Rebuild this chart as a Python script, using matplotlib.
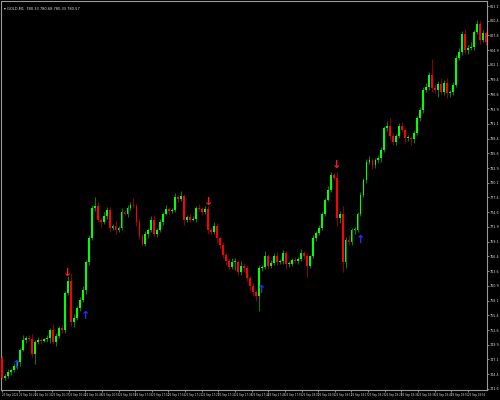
import matplotlib
matplotlib.use("Agg")
import matplotlib.pyplot as plt
import numpy as np
import pandas as pd

# --- data (GOLD, M1) ---
first_open = 747.4
closes = [743.7, 744.0, 744.8, 745.1, 745.9, 746.6, 748.9, 750.8, 751.1, 750.9,
          748.1, 750.4, 750.8, 750.6, 750.9, 751.1, 752.6, 750.4, 751.5, 753.0,
          752.6, 759.5, 761.8, 754.1, 754.9, 756.7, 758.2, 760.1, 765.3, 769.8,
          775.4, 775.8, 773.2, 772.8, 773.9, 775.0, 771.7, 772.0, 771.3, 771.7,
          774.6, 774.3, 775.4, 776.0, 775.8, 772.8, 770.2, 768.7, 770.5, 771.3,
          773.2, 770.5, 771.3, 772.8, 774.3, 775.2, 774.8, 775.0, 777.4, 777.1,
          777.6, 773.2, 773.7, 773.2, 773.3, 775.4, 775.2, 774.6, 775.2, 771.3,
          770.9, 772.0, 769.8, 768.5, 766.6, 765.5, 764.4, 765.3, 765.3, 763.4,
          764.6, 764.2, 762.3, 760.8, 759.7, 759.0, 764.2, 764.4, 766.4, 764.6,
          765.1, 766.4, 765.3, 765.5, 767.0, 764.9, 764.9, 765.7, 765.5, 765.9,
          767.0, 766.4, 764.6, 766.4, 769.8, 770.7, 771.7, 774.3, 776.9, 778.8,
          781.6, 781.0, 773.5, 774.3, 765.3, 769.4, 769.0, 771.3, 771.3, 774.3,
          777.8, 780.6, 784.0, 784.4, 783.4, 784.4, 784.7, 786.2, 790.3, 790.7,
          788.8, 787.7, 788.8, 790.7, 790.0, 788.5, 788.5, 788.3, 789.4, 792.2,
          793.7, 797.4, 798.0, 800.2, 797.8, 797.4, 798.5, 797.1, 798.7, 796.9,
          797.1, 798.4, 803.4, 804.5, 807.9, 804.9, 805.3, 805.5, 808.3, 809.8,
          806.8, 808.1, 806.4]
upper_wick = [0.4, 0.3, 0.5, 0.2, 0.6, 0.4, 0.3, 0.8, 0.4, 0.5,
              0.9, 0.3, 0.5, 0.4, 0.3, 0.6, 0.4, 1.2, 0.5, 0.3,
              0.6, 0.4, 0.9, 1.5, 0.6, 0.4, 0.5, 0.8, 0.4, 0.6,
              0.5, 1.6, 0.7, 0.4, 0.8, 0.5, 0.6, 0.4, 0.9, 0.3,
              0.8, 0.4, 0.6, 0.5, 1.2, 0.4, 0.6, 0.3, 0.5, 0.4,
              0.6, 0.9, 0.3, 0.5, 0.4, 0.7, 0.4, 0.3, 0.8, 0.5,
              0.9, 0.4, 0.3, 0.6, 0.5, 0.4, 0.8, 0.3, 0.5, 0.6,
              0.4, 0.7, 0.5, 0.3, 0.6, 0.4, 0.5, 0.8, 0.7, 0.3,
              0.9, 0.5, 0.4, 0.3, 0.6, 0.4, 0.5, 0.3, 1.0, 0.4,
              0.6, 0.5, 0.7, 0.4, 0.6, 0.3, 0.5, 0.4, 0.6, 0.3,
              0.8, 0.4, 0.5, 0.3, 0.6, 0.4, 0.5, 0.3, 0.4, 0.6,
              0.5, 0.4, 1.2, 0.6, 1.5, 0.5, 0.9, 0.4, 0.5, 0.3,
              0.6, 0.4, 0.5, 0.7, 0.4, 0.3, 0.5, 0.6, 0.4, 0.9,
              1.5, 0.6, 0.4, 0.5, 0.8, 0.4, 0.6, 0.3, 0.5, 0.4,
              0.6, 0.5, 0.7, 0.6, 3.0, 0.8, 0.6, 1.2, 0.5, 0.9,
              0.4, 0.6, 0.5, 0.7, 0.6, 0.9, 0.5, 0.8, 0.4, 0.6,
              0.5, 0.6, 0.4]
lower_wick = [0.3, 0.5, 0.3, 0.6, 0.4, 0.5, 0.7, 0.3, 0.6, 0.4,
              0.5, 1.8, 0.4, 0.6, 0.3, 0.5, 0.9, 0.4, 0.7, 0.3,
              0.5, 0.6, 0.4, 0.8, 1.0, 0.5, 0.6, 0.4, 0.7, 0.5,
              0.4, 0.6, 0.5, 0.9, 0.4, 0.6, 0.8, 0.5, 0.7, 0.4,
              0.5, 0.3, 0.6, 0.4, 0.5, 0.7, 0.6, 0.5, 0.4, 0.8,
              0.4, 0.6, 0.5, 0.4, 0.6, 0.3, 0.5, 0.4, 0.3, 0.6,
              0.4, 0.9, 0.5, 0.4, 0.3, 0.5, 0.4, 0.6, 0.3, 0.7,
              0.5, 0.4, 0.9, 0.6, 0.5, 0.8, 0.6, 0.4, 1.4, 0.6,
              0.5, 0.7, 0.6, 0.8, 0.7, 1.0, 2.8, 0.5, 0.4, 0.6,
              0.5, 0.3, 0.6, 0.4, 0.5, 0.9, 0.6, 0.4, 0.3, 0.5,
              0.4, 0.6, 2.1, 0.5, 0.4, 0.6, 0.3, 0.5, 0.4, 0.3,
              0.5, 0.4, 1.5, 0.9, 1.8, 1.2, 0.6, 0.5, 0.8, 0.4,
              0.5, 0.3, 0.6, 0.4, 0.8, 0.5, 0.6, 0.7, 0.4, 0.5,
              0.8, 0.5, 0.6, 0.4, 0.5, 0.9, 0.6, 1.2, 0.7, 0.4,
              0.6, 0.5, 0.4, 0.5, 0.7, 0.6, 1.3, 0.5, 0.6, 0.9,
              0.7, 0.6, 0.5, 0.4, 0.6, 0.8, 0.7, 0.5, 0.6, 0.4,
              0.7, 0.5, 0.6]

# signal arrows (bar index, price)
sell_idx = [22, 69, 112]
sell_price = [763.3, 776.5, 783.4]
buy_idx = [5, 28, 87, 120]
buy_price = [746.1, 755.2, 760.1, 769.4]

price_ticks = [741.6 + 2.75 * i for i in range(27)]
title_text = "\u25be GOLD,M1  780.33 780.68 780.33 780.57"

opens = [first_open] + closes[:-1]
n = len(closes)
highs = [max(o, c) + u for o, c, u in zip(opens, closes, upper_wick)]
lows = [min(o, c) - l for o, c, l in zip(opens, closes, lower_wick)]

times = pd.date_range("2022-09-26 16:20", periods=n, freq="min")

fig = plt.figure(figsize=(5, 4), dpi=100, facecolor="black")
ax = fig.add_axes([0.002, 0.025, 0.972, 0.972], facecolor="black")

for i in range(n):
    o, c = opens[i], closes[i]
    up = c >= o
    body_col = "#00ff00" if up else "#ff0000"
    wick_col = "#0b7a0b" if up else "#8a0000"
    ax.vlines(i, lows[i], highs[i], color=wick_col, linewidth=0.8, zorder=2)
    h = abs(c - o)
    if h < 0.15:
        h = 0.15
    ax.bar(i, h, bottom=min(o, c), width=0.62, color=body_col, linewidth=0, zorder=3)

for i, p in zip(sell_idx, sell_price):
    ax.text(i, p, "\u2193", color="#ff1a1a", fontsize=8, fontweight="bold",
            ha="center", va="center", zorder=5)
for i, p in zip(buy_idx, buy_price):
    ax.text(i, p, "\u2191", color="#2a2aff", fontsize=8, fontweight="bold",
            ha="center", va="center", zorder=5)

ax.set_xlim(-0.35, n - 0.65)
ax.set_ylim(741.4, 814.0)

ax.yaxis.tick_right()
ax.set_yticks(price_ticks)
ax.set_yticklabels(["%.1f" % t for t in price_ticks], fontsize=2.4, color="#d8d8d8")
ax.tick_params(axis="y", length=1.2, width=0.5, color="#bbbbbb", pad=0.6)

tick_pos = np.arange(0, n - 4, 5.57)
tick_lab = ["26 Sep 2022"] + [times[int(round(t))].strftime("%d %b %H:%M") for t in tick_pos[1:]]
ax.set_xticks(tick_pos)
ax.set_xticklabels(tick_lab, fontsize=1.9, color="#d8d8d8", ha="left")
ax.tick_params(axis="x", length=1.5, width=0.5, color="#bbbbbb", pad=1)

for s in ax.spines.values():
    s.set_color("#9a9a9a")
    s.set_linewidth(0.8)

fig.text(0.008, 0.978, title_text, fontsize=2.6, color="#e0e0e0", ha="left", va="center")

fig.savefig("out.png", dpi=100, facecolor="black")
